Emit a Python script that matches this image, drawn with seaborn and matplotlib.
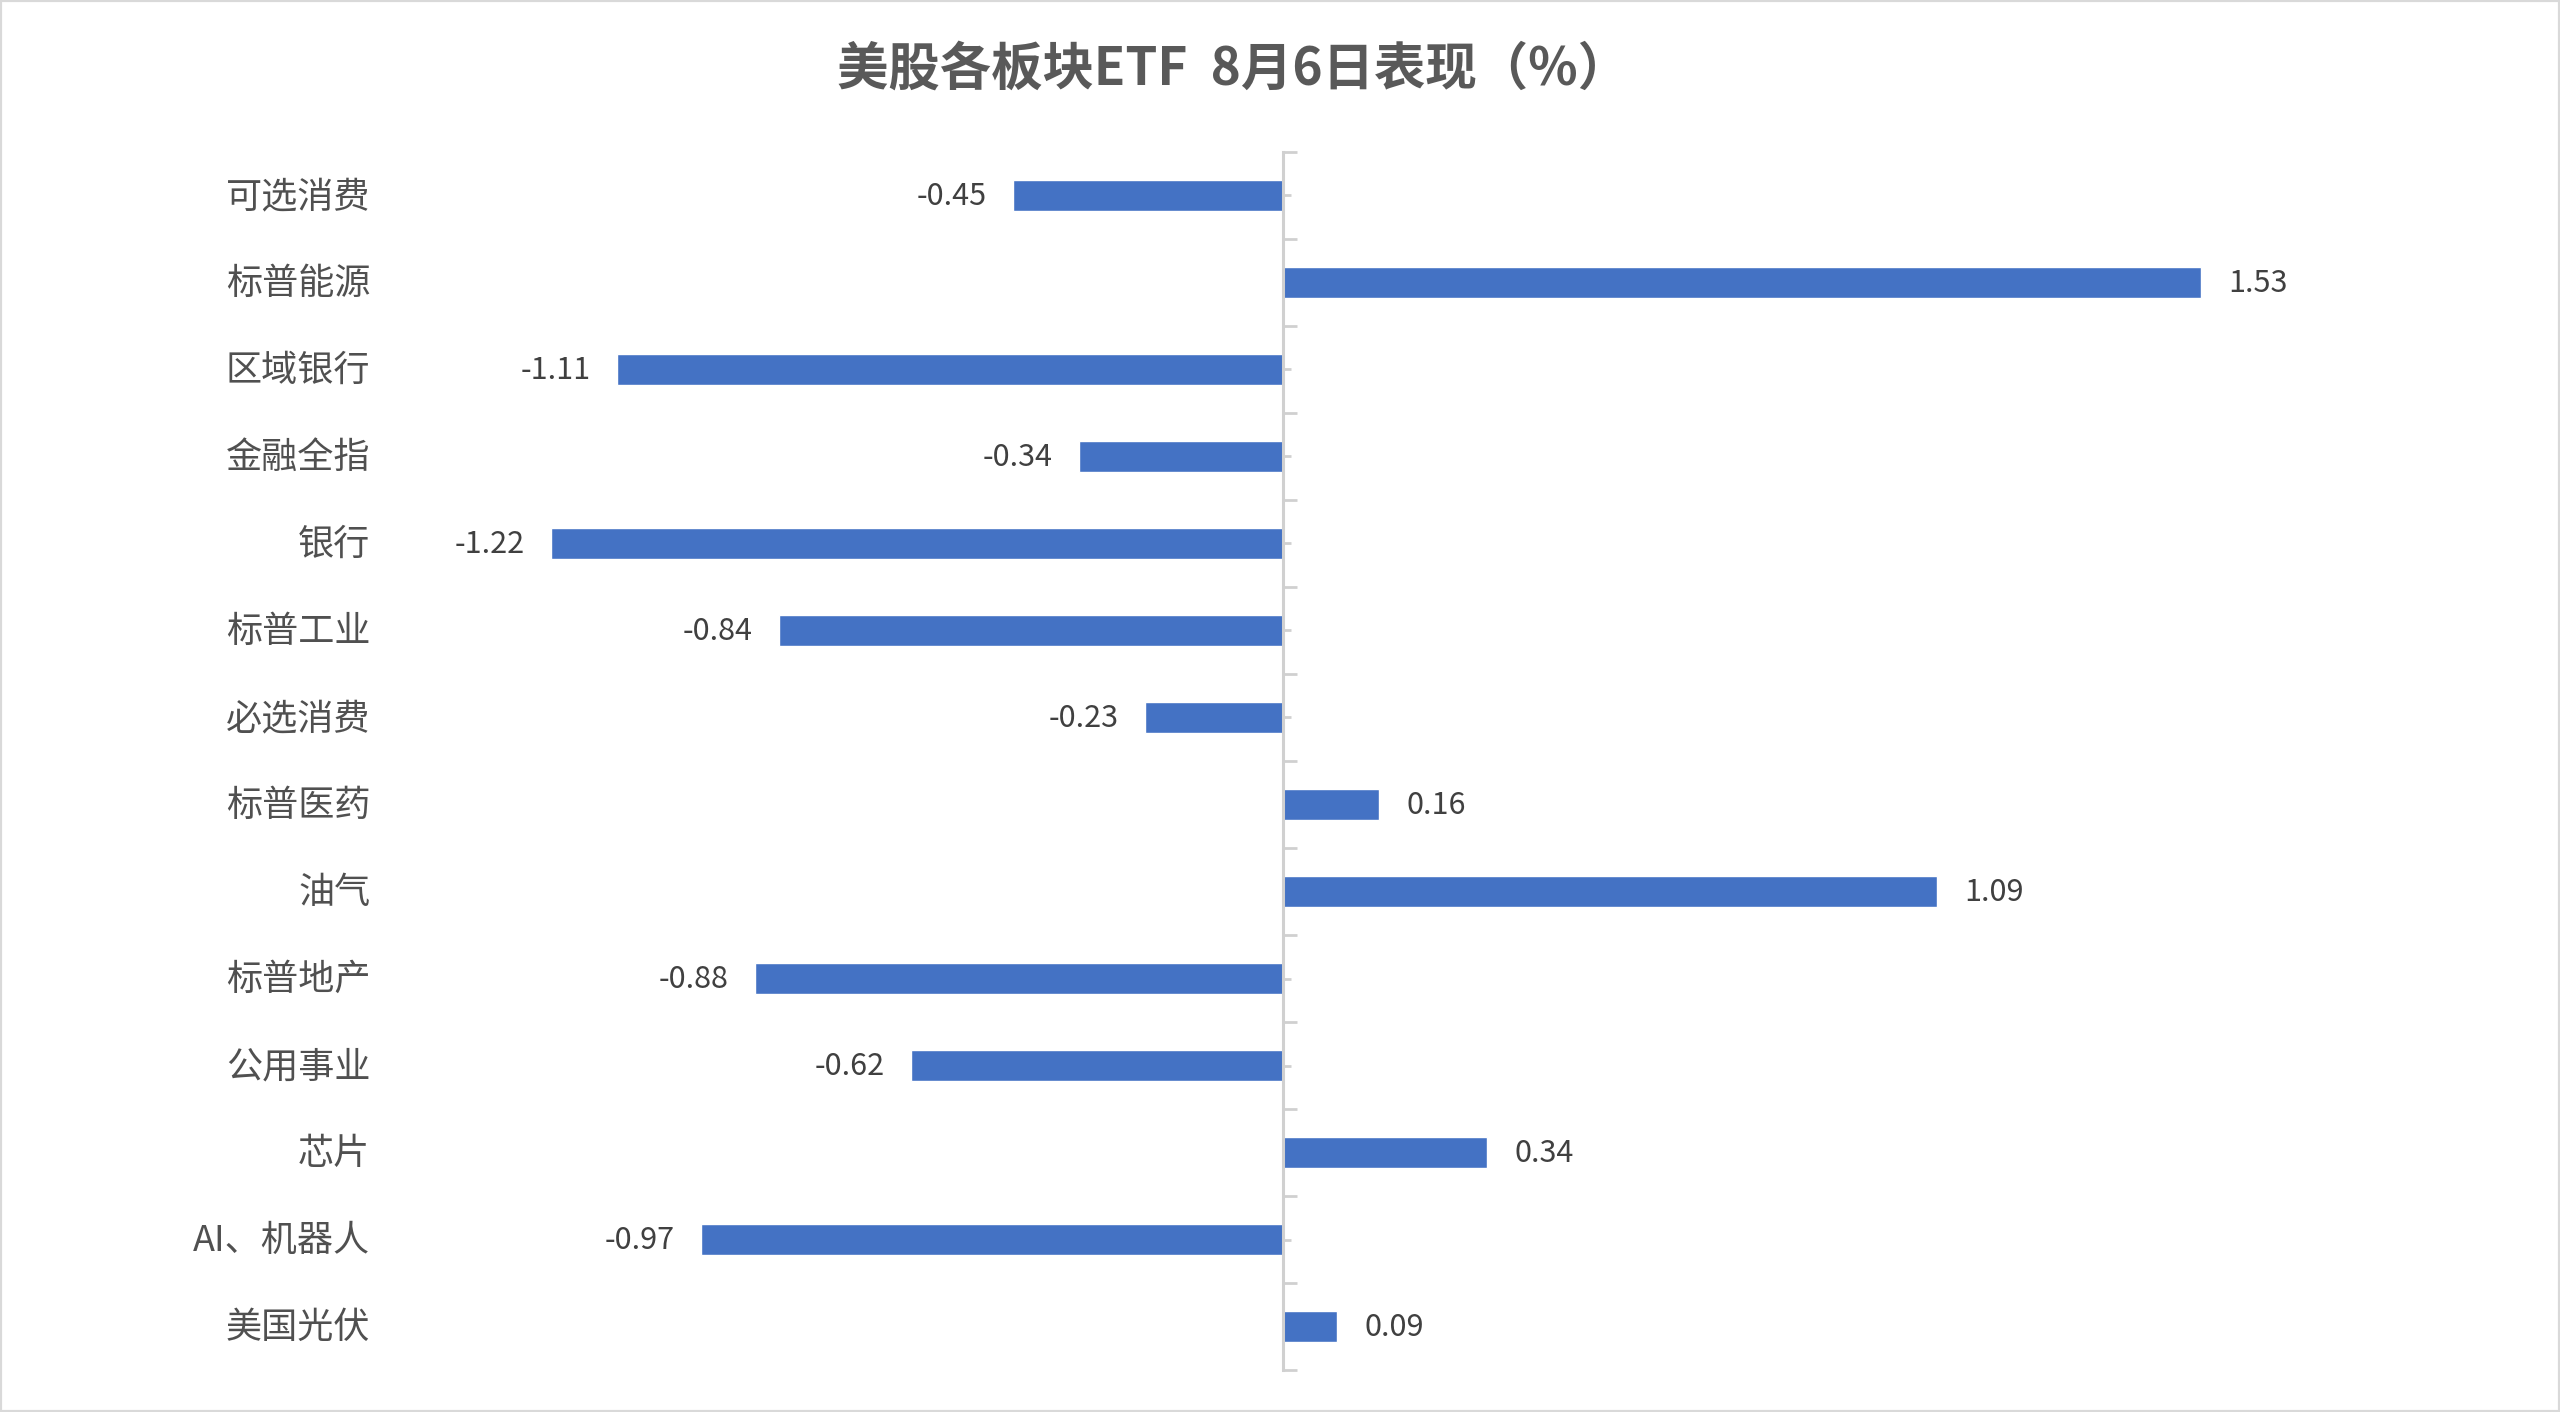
import numpy as np
import pandas as pd
import matplotlib
matplotlib.use('Agg')
import matplotlib.pyplot as plt
import matplotlib.transforms as mtransforms
from matplotlib.patches import Rectangle
import seaborn as sns

# data
sectors = ['可选消费', '标普能源', '区域银行', '金融全指', '银行', '标普工业', '必选消费',
           '标普医药', '油气', '标普地产', '公用事业', '芯片', 'AI、机器人', '美国光伏']
changes = [-0.45, 1.53, -1.11, -0.34, -1.22, -0.84, -0.23,
           0.16, 1.09, -0.88, -0.62, 0.34, -0.97, 0.09]
title = '美股各板块ETF  8月6日表现（%）'

sns.set_style('white')
plt.rcParams['font.family'] = ['Noto Sans CJK SC', 'DejaVu Sans']

df = pd.DataFrame({'sector': sectors, 'change': changes})

fig = plt.figure(figsize=(25.6, 14.12), dpi=100)
ax = fig.add_axes([0.1496, 0.0297, 0.8203, 0.8627])

sns.barplot(data=df, x='change', y='sector', orient='h', color='#4472C4',
            saturation=1, width=0.35, ax=ax)

n = len(sectors)
ax.set_xlim(-1.5, 2.0)
ax.set_ylim(n - 0.5, -0.5)

# vertical axis line at zero
for s in ['top', 'right', 'bottom']:
    ax.spines[s].set_visible(False)
ax.spines['left'].set_position(('data', 0))
ax.spines['left'].set_color('#D0D0D0')
ax.spines['left'].set_linewidth(2.2)
ax.set_yticks(np.arange(-0.5, n, 1))
ax.set_yticks(np.arange(0, n, 1), minor=True)
ax.tick_params(axis='y', which='major', left=True, direction='in', length=10, width=2,
               color='#D0D0D0', labelleft=False)
ax.tick_params(axis='y', which='minor', left=True, direction='in', length=6, width=2,
               color='#D0D0D0', labelleft=False)
ax.set_xticks([])
ax.set_xlabel('')
ax.set_ylabel('')

# category names at the left edge
trans = mtransforms.blended_transform_factory(ax.transAxes, ax.transData)
for i, name in enumerate(sectors):
    ax.text(-0.006, i + 0.02, name, transform=trans, ha='right', va='center',
            fontsize=26, color='#505050')

# value labels
for i, v in enumerate(changes):
    if v < 0:
        ax.annotate(f'{v:.2f}', (v, i), xytext=(-19, -1), textcoords='offset points',
                    ha='right', va='center', fontsize=22, color='#404040')
    else:
        ax.annotate(f'{v:.2f}', (v, i), xytext=(20, -1), textcoords='offset points',
                    ha='left', va='center', fontsize=22, color='#404040')

fig.text(0.4815, 0.951, title, ha='center', va='center', fontsize=37,
         fontweight='bold', color='#595959')

fig.patches.append(Rectangle((0, 0), 1, 1, transform=fig.transFigure, fill=False,
                             edgecolor='#D9D9D9', linewidth=3))

fig.savefig('out.png', dpi=100)
